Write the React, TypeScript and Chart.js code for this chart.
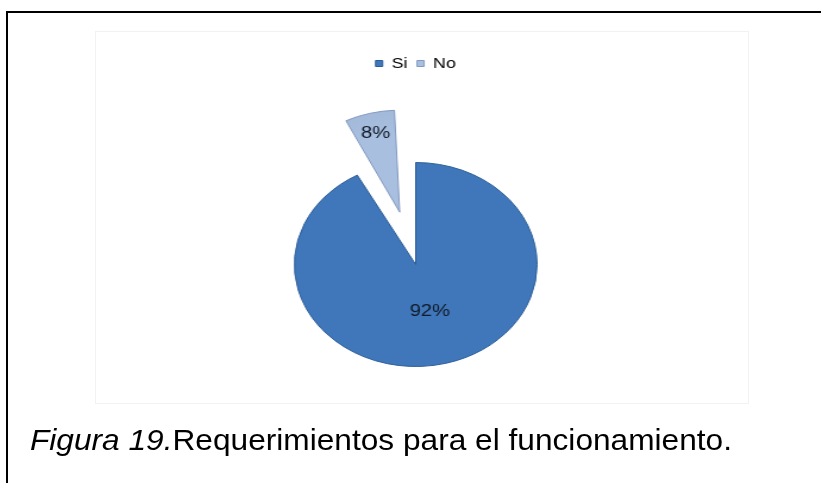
import React, { useEffect, useRef } from "react";
import { Chart, registerables } from "chart.js";

Chart.register(...registerables);

const categories = ["Si", "No"];
const values = [92, 8];
const valueLabels = ["92%", "8%"];
const captionPrefix = "Figura 19.";
const caption = "Requerimientos para el funcionamiento.";

const innerColors = ["#3F77BA", "#A9BFDF"];
const outerColors = ["#2D5C97", "#A3B9DA"];
const borderColors = ["#2E5E98", "#8199C0"];
const labelRadius = [0.47, 0.8];

const STRETCH = 1.19;
const BUF_W = 549;
const BUF_H = 452;

function makeFill(ctx: any, i: number) {
  const chart = ctx.chart;
  const meta = chart.getDatasetMeta(0);
  const a = meta && meta.data && meta.data[0];
  if (!a || !chart.chartArea || !a.outerRadius) return innerColors[i];
  const g = chart.ctx.createRadialGradient(a.x, a.y, 0, a.x, a.y, a.outerRadius + 2);
  g.addColorStop(0, innerColors[i]);
  g.addColorStop(0.75, innerColors[i]);
  g.addColorStop(1, outerColors[i]);
  return g;
}

const explodeFix = {
  id: "explodeFix",
  afterDatasetUpdate(chart: any) {
    const meta = chart.getDatasetMeta(0);
    meta.data.forEach((arc: any) => {
      const off = (arc.options && arc.options.offset) || 0;
      if (!off) return;
      const circ = arc.endAngle - arc.startAngle;
      const fix = 1 - Math.sin(Math.min(Math.PI, circ));
      arc.outerRadius = arc.outerRadius - (off / 4) * fix;
    });
  },
};

const labelPlugin = {
  id: "sliceLabels",
  afterDatasetsDraw(chart: any) {
    const meta = chart.getDatasetMeta(0);
    const ctx = chart.ctx;
    const R = meta.data[0].outerRadius;
    meta.data.forEach((arc: any, i: number) => {
      const mid = (arc.startAngle + arc.endAngle) / 2;
      const off = ((arc.options && arc.options.offset) || 0) / 4;
      const r = R * labelRadius[i] + off;
      const x = arc.x + Math.cos(mid) * r;
      const y = arc.y + Math.sin(mid) * r;
      ctx.save();
      ctx.font = "17px 'Liberation Sans', Arial, sans-serif";
      ctx.fillStyle = "#111a28";
      ctx.textAlign = "center";
      ctx.textBaseline = "middle";
      ctx.fillText(valueLabels[i], x, y);
      ctx.restore();
    });
  },
};

export default function App() {
  const ref = useRef<HTMLCanvasElement>(null);
  useEffect(() => {
    if (!ref.current) return;
    const chart = new Chart(ref.current, {
      type: "pie",
      data: {
        labels: categories,
        datasets: [
          {
            data: values,
            backgroundColor: (c: any) => makeFill(c, c.dataIndex),
            borderColor: borderColors,
            borderWidth: 1,
            offset: [0, 216],
          },
        ],
      },
      options: {
        animation: false,
        responsive: false,
        devicePixelRatio: 1,
        radius: 102,
        layout: { padding: { top: 17, bottom: 35, left: 0, right: 10 } },
        plugins: {
          legend: {
            position: "top",
            labels: {
              boxWidth: 6,
              boxHeight: 6,
              padding: 8,
              color: "#000",
              font: { family: "'Liberation Sans', Arial, sans-serif", size: 15 },
              generateLabels: () =>
                categories.map((lab, i) => ({
                  text: lab,
                  fillStyle: innerColors[i],
                  strokeStyle: borderColors[i],
                  lineWidth: 1,
                  hidden: false,
                  index: i,
                  datasetIndex: 0,
                })),
            },
          },
          tooltip: { enabled: false },
        },
      } as any,
      plugins: [explodeFix, labelPlugin],
    });
    return () => chart.destroy();
  }, []);

  return (
    <div
      style={{
        position: "fixed",
        left: 0,
        top: 0,
        width: 821,
        height: 483,
        overflow: "hidden",
        background: "#fff",
      }}
    >
      <div
        style={{
          position: "absolute",
          left: 6,
          top: 11,
          width: 900,
          height: 600,
          borderLeft: "2px solid #000",
          borderTop: "2px solid #000",
        }}
      />
      <div
        style={{
          position: "absolute",
          left: 95,
          top: 31,
          width: 652,
          height: 371,
          border: "1px solid #f2f2f2",
        }}
      />
      <div
        style={{
          position: "absolute",
          left: 95,
          top: 31,
          width: BUF_W,
          height: BUF_H,
          transform: `scaleX(${STRETCH})`,
          transformOrigin: "0 0",
        }}
      >
        <canvas
          ref={ref}
          width={BUF_W}
          height={BUF_H}
          style={{ display: "block", width: BUF_W, height: BUF_H }}
        />
      </div>
      <div
        style={{
          position: "absolute",
          left: 30,
          top: 423,
          fontFamily: "'Liberation Sans', Arial, sans-serif",
          fontSize: 30,
          color: "#000",
          whiteSpace: "nowrap",
          transform: "scaleX(1.055)",
          transformOrigin: "0 0",
        }}
      >
        <i>{captionPrefix}</i>
        {caption}
      </div>
    </div>
  );
}
